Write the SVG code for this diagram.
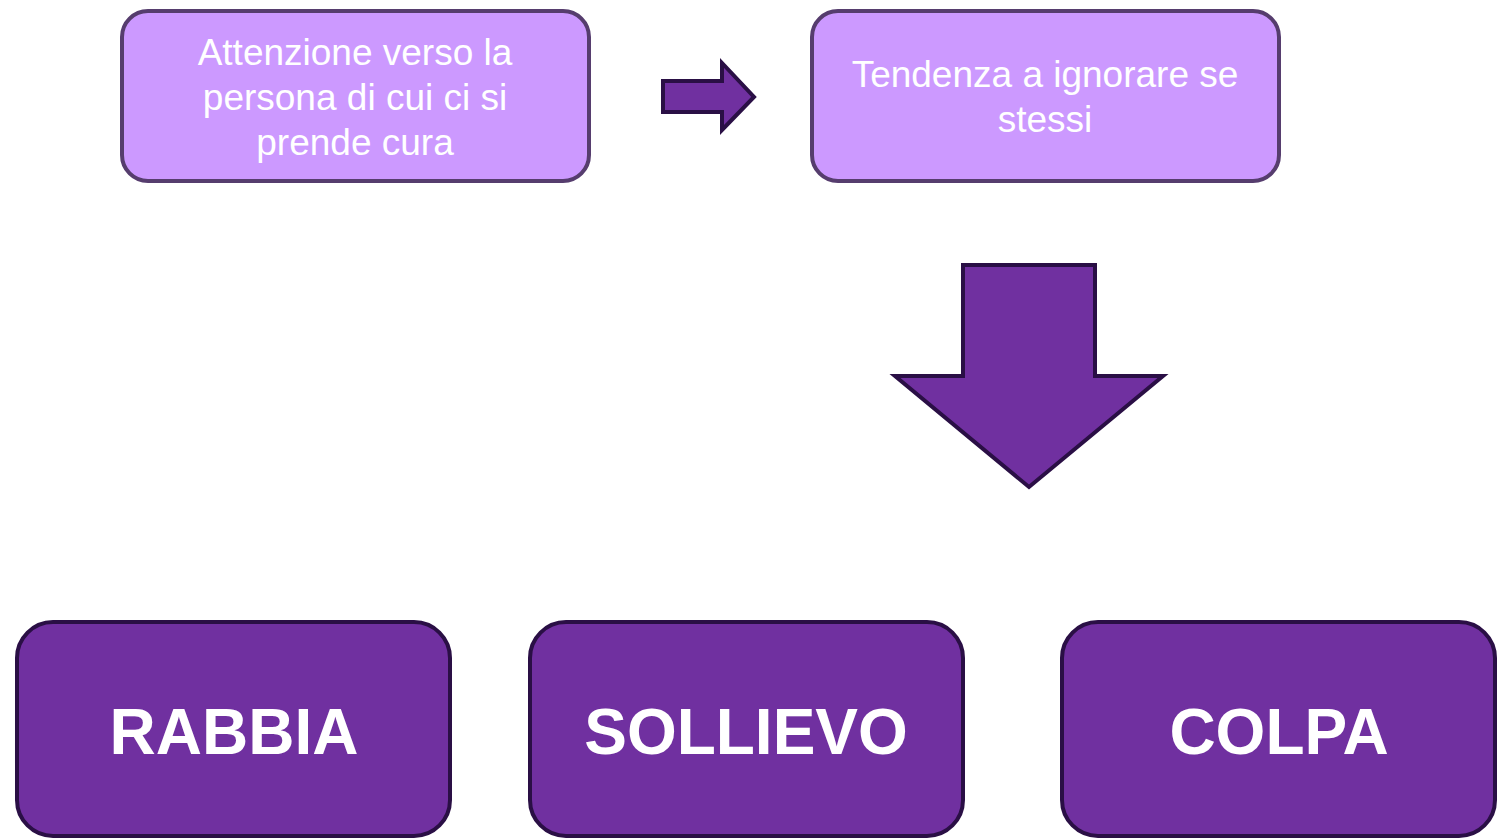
<svg xmlns="http://www.w3.org/2000/svg" width="1502" height="838" viewBox="0 0 1502 838">
<style>
.light{fill:#CC99FF;stroke:#563D6E;stroke-width:4}
.dark{fill:#7030A0;stroke:#2A0F45;stroke-width:4}
.t1{font-family:"Liberation Sans",Arial,sans-serif;font-size:37px;fill:#FFFFFF;text-anchor:middle}
.t2{font-family:"Liberation Sans",Arial,sans-serif;font-size:64px;font-weight:bold;fill:#FFFFFF;text-anchor:middle}
</style>
<rect width="1502" height="838" fill="#FFFFFF"/>
<g id="node-attenzione">
<rect class="light" x="122" y="11" width="467" height="170" rx="26"/>
<text class="t1" x="355" y="65">Attenzione verso la</text>
<text class="t1" x="355" y="110">persona di cui ci si</text>
<text class="t1" x="355" y="155">prende cura</text>
</g>
<g id="node-tendenza">
<rect class="light" x="812" y="11" width="467" height="170" rx="26"/>
<text class="t1" x="1045" y="87">Tendenza a ignorare se</text>
<text class="t1" x="1045" y="132">stessi</text>
</g>
<g id="node-rabbia">
<rect class="dark" x="17" y="622" width="433" height="214" rx="36"/>
<text class="t2" x="234" y="754">RABBIA</text>
</g>
<g id="node-sollievo">
<rect class="dark" x="530" y="622" width="433" height="214" rx="36"/>
<text class="t2" x="746" y="754">SOLLIEVO</text>
</g>
<g id="node-colpa">
<rect class="dark" x="1062" y="622" width="433" height="214" rx="36"/>
<text class="t2" x="1279" y="754">COLPA</text>
</g>
<g id="connectors">
<polygon class="dark" points="663,81 722,81 722,63 754,97 722,130 722,112 663,112"/>
<polygon class="dark" points="963,265 1095,265 1095,376 1163,376 1029,487 895,376 963,376"/>
</g>
</svg>
